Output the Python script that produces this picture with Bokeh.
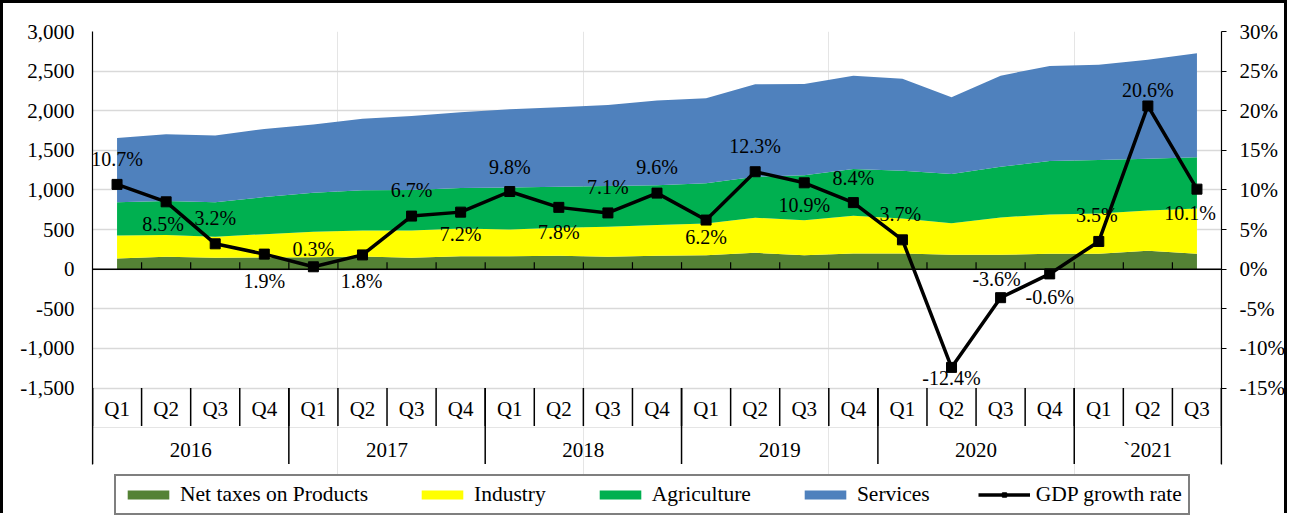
from bokeh.plotting import figure
from bokeh.models import (Range1d, LinearAxis, FixedTicker, NumeralTickFormatter, Grid,
                          Span, ColumnDataSource, Legend, LegendItem)
from bokeh.core.properties import value
from bokeh.embed import file_html
from bokeh.resources import INLINE

# ---------------- data ----------------
years = ["2016", "2017", "2018", "2019", "2020", "`2021"]
quarters_per_year = [4, 4, 4, 4, 4, 3]
quarters = ["Q1", "Q2", "Q3", "Q4"] * 5 + ["Q1", "Q2", "Q3"]

net_taxes = [135, 156, 143, 148, 150, 160, 143, 164, 164, 168, 156, 168,
             177, 206, 177, 198, 198, 181, 181, 194, 194, 232, 194]
industry = [291, 274, 265, 294, 321, 329, 346, 350, 338, 354, 379, 388,
            401, 443, 442, 476, 443, 400, 472, 497, 510, 510, 573]
agriculture = [419, 430, 437, 468, 494, 506, 511, 511, 528, 518, 515, 504,
               507, 518, 566, 591, 602, 620, 640, 674, 674, 652, 645]
services = [811, 842, 843, 860, 860, 905, 934, 957, 990, 1005, 1023, 1070,
            1073, 1167, 1153, 1178, 1159, 969, 1150, 1201, 1201, 1248, 1314]
gdp_growth = [10.7, 8.5, 3.2, 1.9, 0.3, 1.8, 6.7, 7.2, 9.8, 7.8, 7.1, 9.6,
              6.2, 12.3, 10.9, 8.4, 3.7, -12.4, -3.6, -0.6, 3.5, 20.6, 10.1]

left_ticks = [-1500, -1000, -500, 0, 500, 1000, 1500, 2000, 2500, 3000]
right_ticks = [-0.15, -0.10, -0.05, 0.0, 0.05, 0.10, 0.15, 0.20, 0.25, 0.30]

# label placement (screen px) for the growth-rate data labels
label_dx = [0, -3, 0, 0, 0, -1, 0, 0, 0, 0, 0, 0,
            0, 0, 0, 0, -2, 0, -4, 0, -2, 0, -7]
label_dy = [-25, 22, -26, 27, -18, 26, -26, 22, -25, 25, -26, -26,
            17, -26, 22, -25, -26, 11, -19, 23, -26, -16, 24]

# ---------------- layout ----------------
BORDER = 3
FIG_W, FIG_H = 1293 - 2 * BORDER, 516 - BORDER
B_LEFT, B_RIGHT, B_TOP, B_BOTTOM = 89, 69, 28, 0
FRAME_H = FIG_H - B_TOP - B_BOTTOM
PX_VALUE_SPAN = 356.5                      # pixels from 3000 down to -1500
UPP = (left_ticks[-1] - left_ticks[0]) / PX_VALUE_SPAN   # units per pixel
Y_TOP = left_ticks[-1]
Y_BOTTOM = Y_TOP - FRAME_H * UPP
AXIS_LOW = left_ticks[0] - 76 * UPP        # lines end 76 px below -1500
Q_SEP_LOW = left_ticks[0] - 38 * UPP

FONT = "Liberation Serif"
FS_AX = "21px"
FS_LBL = "20px"

n = len(quarters)
xs = [i + 0.5 for i in range(n)]

p = figure(width=FIG_W, height=FIG_H, output_backend="svg", toolbar_location=None,
           x_range=Range1d(0, n), y_range=Range1d(Y_BOTTOM, Y_TOP),
           x_axis_location=None, y_axis_location=None,
           min_border_left=B_LEFT, min_border_right=B_RIGHT,
           min_border_top=B_TOP, min_border_bottom=B_BOTTOM)
p.extra_y_ranges = {"pct": Range1d(Y_BOTTOM / 10000, Y_TOP / 10000)}
p.outline_line_color = None
p.background_fill_color = "white"
p.border_fill_color = "white"
edge = "%dpx solid black" % BORDER
p.styles = {"border-top": edge, "border-left": edge, "border-right": edge,
            "background-color": "white"}

# axes
left = LinearAxis(ticker=FixedTicker(ticks=left_ticks),
                  formatter=NumeralTickFormatter(format="0,0"),
                  bounds=(AXIS_LOW, Y_TOP))
right = LinearAxis(y_range_name="pct", ticker=FixedTicker(ticks=right_ticks),
                   formatter=NumeralTickFormatter(format="0%"),
                   bounds=(AXIS_LOW / 10000, Y_TOP / 10000))
for ax, tick_out, standoff in ((left, 0, 18), (right, 5, 13)):
    ax.axis_line_color = "black"
    ax.axis_line_width = 1.2
    ax.major_tick_in = 0
    ax.major_tick_out = tick_out
    ax.major_tick_line_color = "black"
    ax.minor_tick_line_color = None
    ax.major_label_standoff = standoff
    ax.major_label_text_font = FONT
    ax.major_label_text_font_size = FS_AX
    ax.major_label_text_color = "black"
p.add_layout(left, "left")
p.add_layout(right, "right")

grid = Grid(dimension=1, ticker=left.ticker, grid_line_color="#d9d9d9", grid_line_width=1.5)
p.add_layout(grid)

# stacked areas
src = ColumnDataSource(dict(x=xs, net=net_taxes, ind=industry, agr=agriculture, svc=services))
areas = p.varea_stack(stackers=["net", "ind", "agr", "svc"], x="x", source=src,
                      color=["#548235", "#FFFF00", "#00B050", "#4F81BD"])

# zero axis line and its ticks
p.add_layout(Span(location=0, dimension="width", line_color="black", line_width=1.5))
bx = list(range(1, n))
p.segment(x0=bx, y0=[0] * len(bx), x1=bx, y1=[7 * UPP] * len(bx),
          line_color="black", line_width=1.2)

# category separators
qb = list(range(0, n + 1))
p.segment(x0=qb, y0=[left_ticks[0]] * len(qb), x1=qb, y1=[Q_SEP_LOW] * len(qb),
          line_color="black", line_width=1.5)
yb = [0]
for k in quarters_per_year:
    yb.append(yb[-1] + k)
p.segment(x0=yb, y0=[left_ticks[0]] * len(yb), x1=yb, y1=[AXIS_LOW] * len(yb),
          line_color="black", line_width=1.5)

# category labels
p.text(x=xs, y=[left_ticks[0]] * n, text=quarters, y_offset=21,
       text_align="center", text_baseline="middle",
       text_font=value(FONT), text_font_size=FS_AX, text_color="black")
ycx = [(yb[i] + yb[i + 1]) / 2 for i in range(len(years))]
p.text(x=ycx, y=[left_ticks[0]] * len(years), text=years, y_offset=62,
       text_align="center", text_baseline="middle",
       text_font=value(FONT), text_font_size=FS_AX, text_color="black")

# GDP growth line
gsrc = ColumnDataSource(dict(x=xs, y=[g / 100 for g in gdp_growth],
                             t=["%.1f%%" % g for g in gdp_growth],
                             dx=label_dx, dy=label_dy))
gl = p.line("x", "y", source=gsrc, y_range_name="pct", line_color="black", line_width=3.5)
gm = p.scatter("x", "y", source=gsrc, y_range_name="pct", marker="square", size=10,
               fill_color="black", line_color="black")
p.text(x="x", y="y", text="t", x_offset="dx", y_offset="dy", source=gsrc,
       y_range_name="pct", text_align="center", text_baseline="middle",
       text_font=value(FONT), text_font_size=FS_LBL, text_color="black")

legend = Legend(items=[
    LegendItem(label="Net taxes on Products", renderers=[areas[0]]),
    LegendItem(label="Industry", renderers=[areas[1]]),
    LegendItem(label="Agriculture", renderers=[areas[2]]),
    LegendItem(label="Services", renderers=[areas[3]]),
    LegendItem(label="GDP growth rate", renderers=[gl, gm]),
], orientation="horizontal", location=(22, 1))
legend.glyph_width = 52
legend.glyph_height = 11
legend.label_standoff = 6
legend.label_height = 22
legend.spacing = 48
legend.padding = 6
legend.margin = 0
legend.label_text_font = FONT
legend.label_text_font_size = "21.5px"
legend.label_text_color = "black"
legend.border_line_color = "black"
legend.border_line_width = 2
legend.background_fill_color = "white"
legend.background_fill_alpha = 1
p.add_layout(legend)

open("out.html", "w").write(file_html(p, INLINE))
